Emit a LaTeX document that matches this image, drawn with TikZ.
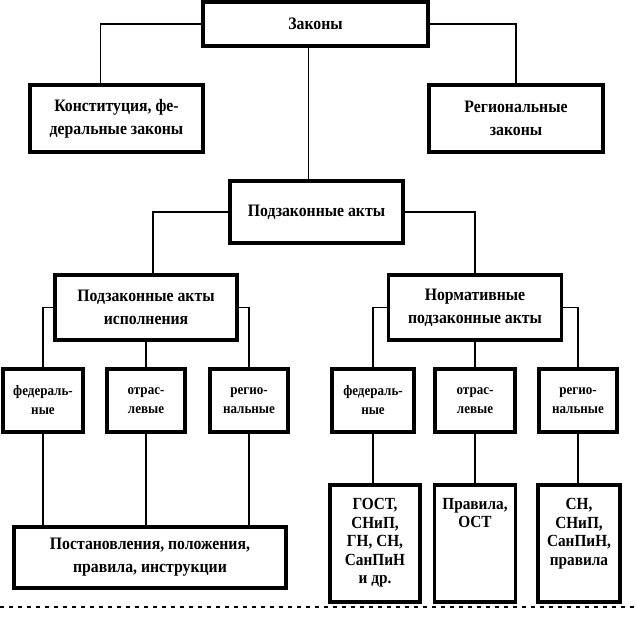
\documentclass[tikz,border=0pt]{standalone}
\usepackage{fontspec}
\setmainfont{Liberation Serif}[FakeStretch=0.9]
\begin{document}
\begin{tikzpicture}[x=1pt,y=-1pt]
\tikzset{
  box/.style={draw, line width=3.8pt, fill=white, align=center, inner sep=0pt,
    font=\bfseries\fontsize{17.5}{23}\selectfont},
  smallbox/.style={box, font=\bfseries\fontsize{14.5}{19}\selectfont},
  txt/.style={align=center, inner sep=0pt, font=\bfseries\fontsize{17}{18.5}\selectfont},
  conn/.style={line width=1.4pt},
}
\useasboundingbox (0,0) rectangle (636,617);
% level 1
\node[box, minimum width=225pt, minimum height=44pt] (zak) at (315.5,24) {Законы};
\node[box, minimum width=173pt, minimum height=67pt] (konst) at (116.5,118.5) {Конституция, фе-\\деральные законы};
\node[box, minimum width=174pt, minimum height=67pt] (reg) at (516,118.5) {Региональные\\законы};
\node[box, minimum width=173pt, minimum height=62pt] (podz) at (316.5,212) {Подзаконные акты};
% level 2
\node[box, minimum width=182pt, minimum height=65pt] (isp) at (146,307.5) {Подзаконные акты\\исполнения};
\node[box, minimum width=173pt, minimum height=65pt] (norm) at (475,307.5) {Нормативные\\подзаконные акты};
% small boxes
\node[smallbox, minimum width=80pt, minimum height=63pt] (f1) at (43,400.5) {федераль-\\ные};
\node[smallbox, minimum width=78pt, minimum height=63pt] (o1) at (146,400.5) {отрас-\\левые};
\node[smallbox, minimum width=78pt, minimum height=63pt] (r1) at (249,400.5) {регио-\\нальные};
\node[smallbox, minimum width=82pt, minimum height=63pt] (f2) at (373,400.5) {федераль-\\ные};
\node[smallbox, minimum width=80pt, minimum height=63pt] (o2) at (475,400.5) {отрас-\\левые};
\node[smallbox, minimum width=78pt, minimum height=63pt] (r2) at (578,400.5) {регио-\\нальные};
% bottom
\node[box, minimum width=272pt, minimum height=61pt] (post) at (150,557.5) {Постановления, положения,\\правила, инструкции};
\node[box, minimum width=90pt, minimum height=117pt] (g) at (375,543.5) {};
\node[box, minimum width=81pt, minimum height=117pt] (p) at (475,543.5) {};
\node[box, minimum width=82pt, minimum height=117pt] (s) at (579,543.5) {};
\node[txt, anchor=north] (gt) at ([yshift=-15pt]g.north) {ГОСТ,\\СНиП,\\ГН, СН,\\СанПиН\\и др.};
\node[txt, anchor=north] (pt) at ([yshift=-15pt]p.north) {Правила,\\ОСТ};
\node[txt, anchor=north] (st) at ([yshift=-15pt]s.north) {СН,\\СНиП,\\СанПиН,\\правила};
% connectors
\draw[conn] (zak.west) -| ([xshift=-16pt]konst.north);
\draw[conn] (zak.east) -| (reg.north);
\draw[conn] ([xshift=-7pt]zak.south) -- ([xshift=-7pt]zak.south |- podz.north);
\draw[conn] (podz.west) -| ([xshift=7pt]isp.north);
\draw[conn] (podz.east) -| (norm.north);
\draw[conn] (isp.west) -| (f1.north);
\draw[conn] (isp.south) -- (o1.north);
\draw[conn] (isp.east) -| (r1.north);
\draw[conn] (norm.west) -| (f2.north);
\draw[conn] (norm.south) -- (o2.north);
\draw[conn] (norm.east) -| (r2.north);
\draw[conn] (f1.south) -- (f1.south |- post.north);
\draw[conn] (o1.south) -- (o1.south |- post.north);
\draw[conn] (r1.south) -- (r1.south |- post.north);
\draw[conn] (f2.south) -- (f2.south |- g.north);
\draw[conn] (o2.south) -- (p.north);
\draw[conn] (r2.south) -- (r2.south |- s.north);
% dotted separator
\draw[line width=2pt, dash pattern=on 4pt off 5pt] (0,607) -- (636,607);
\end{tikzpicture}
\end{document}
